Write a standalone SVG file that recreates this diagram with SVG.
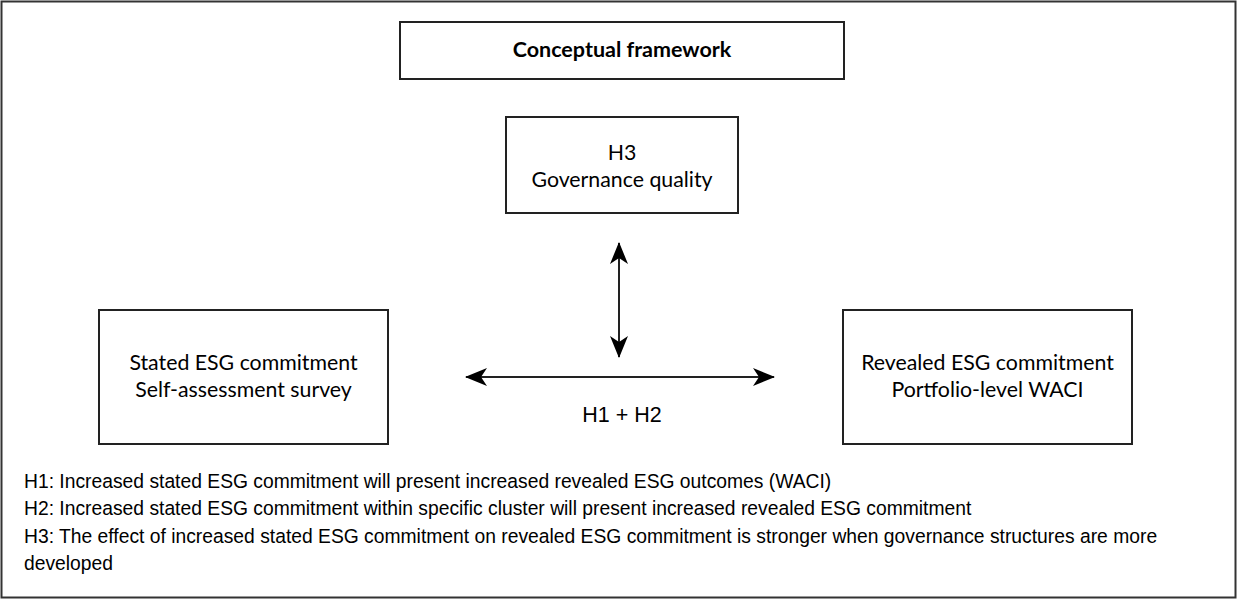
<svg xmlns="http://www.w3.org/2000/svg" width="1237" height="600" viewBox="0 0 1237 600">
<style>
.box{fill:#fff;stroke:#222;stroke-width:2}
.lbl{font-family:Lato,"Open Sans",sans-serif;font-size:21.3px;fill:#000;text-anchor:middle}
.ttl{font-family:Lato,"Open Sans",sans-serif;font-size:21.5px;font-weight:bold;fill:#000;text-anchor:middle}
.hyp{font-family:"Liberation Sans",Arial,sans-serif;font-size:19.3px;fill:#000}
.conn{stroke:#222;stroke-width:2;fill:none}
</style>
<defs>
<marker id="ah" viewBox="0 0 22 18" refX="21" refY="9" markerWidth="22" markerHeight="18" markerUnits="userSpaceOnUse" orient="auto-start-reverse">
<path d="M0,0 L22,9 L0,18 L6,9 Z" fill="#000"/>
</marker>
</defs>
<rect x="1.5" y="1.5" width="1234" height="596" fill="#fff" stroke="#333" stroke-width="2"/>
<g id="title">
<rect class="box" x="400" y="22" width="444" height="57"/>
<text class="ttl" x="622" y="57">Conceptual framework</text>
</g>
<g id="governance">
<rect class="box" x="506" y="117" width="232" height="96"/>
<text class="lbl" x="622" y="160">H3</text>
<text class="lbl" x="622" y="187">Governance quality</text>
</g>
<g id="stated">
<rect class="box" x="99" y="310" width="289" height="134"/>
<text class="lbl" x="243.5" y="370">Stated ESG commitment</text>
<text class="lbl" x="243.5" y="397">Self-assessment survey</text>
</g>
<g id="revealed">
<rect class="box" x="843" y="310" width="289" height="134"/>
<text class="lbl" x="987.5" y="370">Revealed ESG commitment</text>
<text class="lbl" x="987.5" y="397">Portfolio-level WACI</text>
</g>
<g id="connectors">
<line class="conn" x1="619" y1="243" x2="619" y2="357" marker-start="url(#ah)" marker-end="url(#ah)"/>
<line class="conn" x1="466" y1="377" x2="774" y2="377" marker-start="url(#ah)" marker-end="url(#ah)"/>
<text class="hyp" x="622" y="422" text-anchor="middle" style="font-size:21.5px">H1 + H2</text>
</g>
<g id="hypotheses">
<text class="hyp" x="24" y="488">H1: Increased stated ESG commitment will present increased revealed ESG outcomes (WACI)</text>
<text class="hyp" x="24" y="515">H2: Increased stated ESG commitment within specific cluster will present increased revealed ESG commitment</text>
<text class="hyp" x="24" y="543">H3: The effect of increased stated ESG commitment on revealed ESG commitment is stronger when governance structures are more</text>
<text class="hyp" x="24" y="570">developed</text>
</g>
</svg>
